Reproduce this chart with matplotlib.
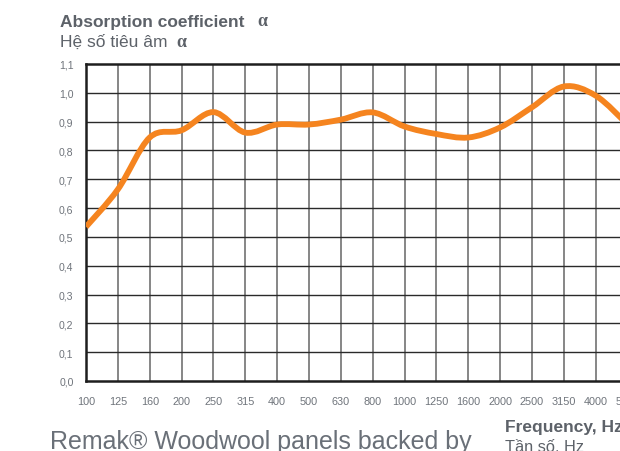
import numpy as np
import matplotlib
matplotlib.use("Agg")
import matplotlib.pyplot as plt
from matplotlib.path import Path
from matplotlib.patches import PathPatch

#==========================
# dados
#==========================
freq_labels = ["100", "125", "160", "200", "250", "315", "400", "500", "630",
               "800", "1000", "1250", "1600", "2000", "2500", "3150", "4000", "5000"]
alpha_values = [0.535, 0.665, 0.845, 0.87, 0.933, 0.862, 0.89, 0.89, 0.907,
                0.932, 0.883, 0.857, 0.845, 0.88, 0.95, 1.022, 0.99, 0.89]
y_ticks = [0.0, 0.1, 0.2, 0.3, 0.4, 0.5, 0.6, 0.7, 0.8, 0.9, 1.0, 1.1]
y_labels = ["0,0", "0,1", "0,2", "0,3", "0,4", "0,5", "0,6", "0,7", "0,8", "0,9", "1,0", "1,1"]

W, H = 620, 452
text_grey = "#5d6269"
tick_grey = "#6f747b"
orange = "#f5841f"


def px(x, y):
    # pixel da imagem -> coordenada da figura
    return x / W, 1 - y / H


#==========================
# curva suave (Catmull-Rom -> Bezier) pelos pontos
#==========================
def smooth_path(xs, ys):
    pts = np.column_stack([xs, ys])
    verts = [pts[0]]
    codes = [Path.MOVETO]
    n = len(pts)
    for i in range(n - 1):
        p0 = pts[i - 1] if i > 0 else pts[i]
        p1 = pts[i]
        p2 = pts[i + 1]
        p3 = pts[i + 2] if i + 2 < n else pts[i + 1]
        c1 = p1 + (p2 - p0) / 6.0
        c2 = p2 - (p3 - p1) / 6.0
        verts += [c1, c2, p2]
        codes += [Path.CURVE4] * 3
    return Path(verts, codes)


fig = plt.figure(figsize=(W / 100, H / 100), dpi=100)
left, bottom = px(86, 382)
_, top = px(0, 65)
step = 31.86
ax = fig.add_axes([left, bottom, (17 * step) / W, top - bottom])

xs = np.arange(len(freq_labels))
ax.set_xlim(0, 17)
ax.set_ylim(0, 1.1)

for x in xs[1:]:
    ax.axvline(x, color="#7d7d7d", lw=1.3, zorder=1)
for y in y_ticks[1:-1]:
    ax.axhline(y, color="#2a2a2a", lw=1.0, zorder=1)

patch = PathPatch(smooth_path(xs, alpha_values), facecolor="none", edgecolor=orange,
                  lw=4.2, capstyle="butt", zorder=3)
ax.add_patch(patch)

for s in ax.spines.values():
    s.set_color("#1e1e1e")
    s.set_linewidth(1.8)

ax.set_xticks(xs)
ax.set_xticklabels(freq_labels)
ax.set_yticks(y_ticks)
ax.set_yticklabels(y_labels)
ax.tick_params(length=0, labelcolor=tick_grey)
ax.tick_params(axis="x", pad=11, labelsize=7.8)
ax.tick_params(axis="y", pad=9, labelsize=7.6)
for lab in ax.get_xticklabels() + ax.get_yticklabels():
    lab.set_family("Liberation Sans")

#==========================
# textos
#==========================
fig.text(*px(60, 26.5), "Absorption coefficient", family="Liberation Sans",
         weight="bold", size=12.5, color=text_grey)
fig.text(*px(257, 26.5), "α", family="Liberation Serif", weight="bold",
         size=13, color=text_grey)
fig.text(*px(60, 47), "Hệ số tiêu âm", family="Liberation Sans",
         size=12.5, color=text_grey)
fig.text(*px(176, 47), "α", family="Liberation Serif", weight="bold",
         size=13, color=text_grey)

fig.text(*px(505, 432), "Frequency, Hz", family="Liberation Sans",
         weight="bold", size=12.5, color=text_grey)
fig.text(*px(505, 452), "Tần số, Hz", family="Liberation Sans",
         size=11.8, color=text_grey)
fig.text(*px(50, 449), "Remak® Woodwool panels backed by", family="Liberation Sans",
         size=18, color="#6a7078")

fig.savefig("out.png", dpi=100)
